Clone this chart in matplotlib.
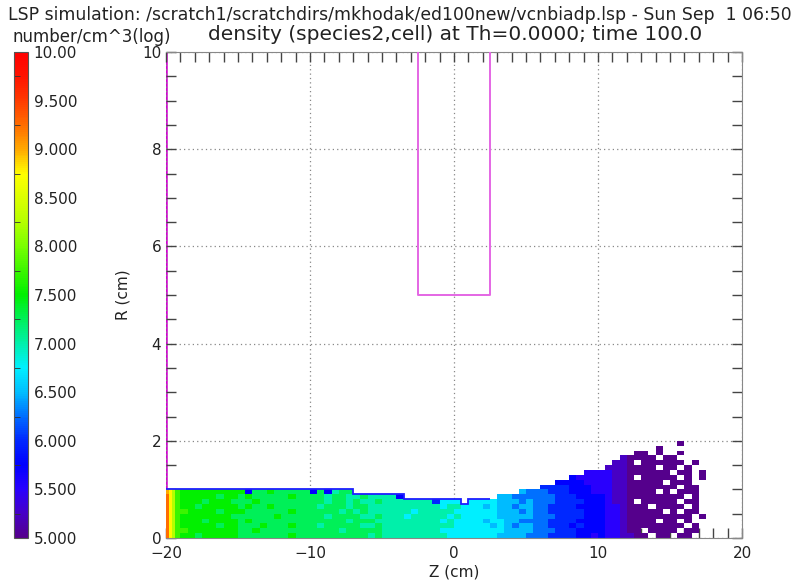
import numpy as np
import matplotlib
matplotlib.use("Agg")
import matplotlib.pyplot as plt
from matplotlib.colors import LinearSegmentedColormap
from matplotlib.ticker import MultipleLocator

# log10 density levels: char index -> 5.0 + 0.25 * index, '.' = no particles
levels = "0123456789ABCDEFGHIJKLMNOPQRSTU"

# cell edges of the density map (cm)
z_edges = np.array([-20, -19.8, -19.6, -19.35, -19] + list(np.arange(-18.5, 18.01, 0.5)))
r_edges = np.arange(0, 2.21, 0.1)

# density map, top row (r=2.1-2.2) first
# groups: z -20..-15 | -15..-10 | -10..-5 | -5..0 | 0..5 | 5..10 | 10..15 | 15..18
density_rows = [
    "............ .......... .......... .......... .......... .......... .......... ......",
    "............ .......... .......... .......... .......... .......... .......... ......",
    "............ .......... .......... .......... .......... .......... .......... .0....",
    "............ .......... .......... .......... .......... .......... ........0. ......",
    "............ .......... .......... .......... .......... .......... .....00.0. .0....",
    "............ .......... .......... .......... .......... .......... ...10000.0 0.....",
    "............ .......... .......... .......... .......... .......... ..110.0000 00.0..",
    "............ .......... .......... .......... .......... .......... .1110000.0 0.0...",
    "............ .......... .......... .......... .......... ........22 2211000000 .00.0.",
    "............ .......... .......... .......... .......... ......3222 22110.0000 0.0.0.",
    "............ .......... .......... .......... .......... ....333322 221100000. 000...",
    "............ .......... .......... .......... .......... ..44443332 2211000000 0.00..",
    "GFDBAAAAAAAA A399A99999 393899.... .......... .........6 5554443332 22110000.0 .000..",
    "HFDBAAAAA9AA 9A99999A99 9989988988 883....... ......6655 5555444333 3211000000 00.0..",
    "HFDBAAA9AAA9 99A9999999 9989989889 8888888477 7.77776665 6555444433 32110.0000 0.00..",
    "HFDBAA9AAAAA 9A99A99999 9899989988 8888888878 8777676656 6554444333 3221000.00 00.0..",
    "HFDBBAAAA9AA A999999A99 9999898988 8888788888 7777776665 6554444433 322100000. 0.00..",
    "HFDBAAAAAAA9 99999A9999 9989999889 8887888887 8777776666 6555444433 3221000000 000.0.",
    "HFDBAAA9AAAA 9A99999999 9999989998 8888888878 7777677665 5554444333 32210000.0 0.0...",
    "HFDBAAAAA9AA 999A999A99 9899999889 8888888888 7777767656 6554443433 3221000000 00.0..",
    "HFDBBAAAAAAA 99A9999999 9999899999 8888888877 7777777666 6555444333 322100.000 0.00..",
    "HFDBAA9AAAAA 9999999A99 9999999989 8888888887 7777776666 5554444332 3221100.00 .00...",
]

# colour bar stops (log density, colour)
cbar_values = [5.0, 5.25, 5.5, 5.75, 6.0, 6.25, 6.5, 6.75, 7.0, 7.25, 7.5,
               7.75, 8.0, 8.25, 8.5, 8.75, 9.0, 9.25, 9.5, 9.75, 10.0]
cbar_colors = ["#55008c", "#4600c8", "#2800ff", "#0000ff", "#0028ff", "#006eff",
               "#00beff", "#00f0ff", "#00f0aa", "#00f05a", "#00f000", "#3cf500",
               "#78ff00", "#b4ff00", "#dcff00", "#ffff00", "#ffaa00", "#ff6e00",
               "#ff3c00", "#ff1400", "#ff0000"]
cbar_ticks = [5.0, 5.5, 6.0, 6.5, 7.0, 7.5, 8.0, 8.5, 9.0, 9.5, 10.0]
cbar_labels = ["5.000", "5.500", "6.000", "6.500", "7.000", "7.500",
               "8.000", "8.500", "9.000", "9.500", "10.00"]

# conductor outline (cm)
box_z = [-2.5, -2.5, 2.5, 2.5]
box_r = [10, 5, 5, 10]

ncol = len(z_edges) - 1
grid = []
for row in density_rows:
    s = "".join(row.split()).ljust(ncol, ".")[:ncol]
    grid.append([np.nan if c == "." else 5.0 + 0.25 * levels.index(c) for c in s])
field = np.ma.masked_invalid(np.array(grid)[::-1])

# top of the beam in each column up to z=2.5 (thin low-density rim)
filled = ~np.ma.getmaskarray(field)
n_rim = np.searchsorted(z_edges, 2.5)
top_r = np.array([r_edges[np.nonzero(filled[:, k])[0].max() + 1] for k in range(n_rim)])

cmap = LinearSegmentedColormap.from_list(
    "lsp", [((v - 5.0) / 5.0, c) for v, c in zip(cbar_values, cbar_colors)], N=256)

txt = "#222222"
fig = plt.figure(figsize=(7.95, 5.88), dpi=100)

ax = fig.add_axes([166 / 795, 50 / 588, 576 / 795, 486 / 588])
mesh = ax.pcolormesh(z_edges, r_edges, field, cmap=cmap, vmin=5, vmax=10, zorder=2)
ax.stairs(top_r, z_edges[:n_rim + 1], baseline=None, color="#1e1eff",
          lw=1.3, zorder=2.2)
ax.plot([-20, -20], [0, 10], color="#d000d0", lw=1.8, zorder=1.5)
ax.plot(box_z, box_r, color="#e466e4", lw=1.4, zorder=3)

ax.set_xlim(-20, 20)
ax.set_ylim(0, 10)
ax.xaxis.set_major_locator(MultipleLocator(10))
ax.xaxis.set_minor_locator(MultipleLocator(1))
ax.yaxis.set_major_locator(MultipleLocator(2))
ax.yaxis.set_minor_locator(MultipleLocator(0.5))
ax.tick_params(which="both", direction="in", top=True, right=True, length=7,
               width=1, color="#444444", labelsize=11, labelcolor=txt)
ax.tick_params(axis="x", pad=6)
ax.grid(True, which="major", color="#888888", lw=0.9, ls=(0, (1, 2.5)))
for side in ["top", "right", "bottom"]:
    ax.spines[side].set_color("#888888")
ax.spines["left"].set_visible(False)
ax.set_xlabel("Z (cm)", fontsize=11, color=txt, labelpad=2)
ax.set_ylabel("R (cm)", fontsize=11, color=txt, labelpad=8)

cax = fig.add_axes([14 / 795, 50 / 588, 14 / 795, 486 / 588])
cbar = fig.colorbar(mesh, cax=cax)
cbar.set_ticks(cbar_ticks)
cbar.set_ticklabels(cbar_labels)
cbar.outline.set_edgecolor("#555555")
cax.yaxis.set_minor_locator(MultipleLocator(0.25))
cax.tick_params(which="major", length=0, labelsize=11, labelcolor=txt, pad=4)
cax.tick_params(which="minor", left=True, right=False, direction="in",
                length=4, color="#333333")

fig.text(8 / 795, 1 - 15 / 588,
         "LSP simulation: /scratch1/scratchdirs/mkhodak/ed100new/vcnbiadp.lsp - Sun Sep  1 06:50",
         fontsize=12.4, color=txt, va="center", ha="left")
fig.text(12 / 795, 1 - 37 / 588, "number/cm^3(log)", fontsize=12,
         color=txt, va="center", ha="left")
fig.text(455 / 795, 1 - 34 / 588, "density (species2,cell) at Th=0.0000; time 100.0",
         fontsize=14.5, color=txt, va="center", ha="center")

fig.savefig("out.png", dpi=100)
